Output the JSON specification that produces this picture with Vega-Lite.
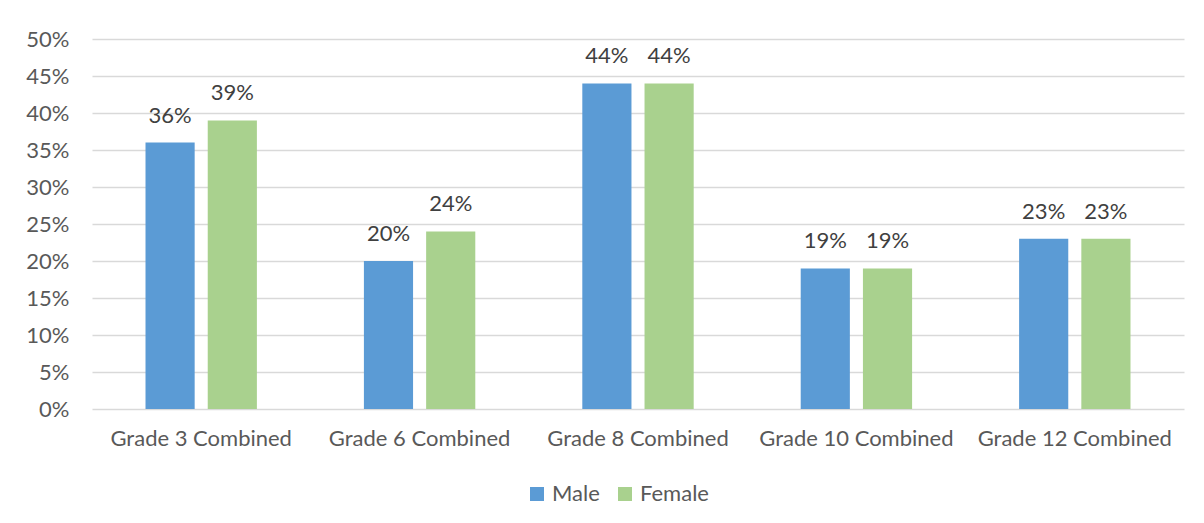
{
  "$schema": "https://vega.github.io/schema/vega-lite/v6.json",
  "width": 1092,
  "height": 370,
  "autosize": {"type": "none"},
  "padding": {"left": 92, "top": 39, "right": 20, "bottom": 114},
  "background": "white",
  "config": {
    "view": {"stroke": null},
    "font": "Lato",
    "axis": {"labelFont": "Lato", "labelColor": "#595959", "labelFontSize": 22, "labelLimit": 400},
    "legend": {"labelFont": "Lato", "labelColor": "#595959", "labelFontSize": 22, "labelLimit": 400}
  },
  "data": {
    "values": [
      {"grade": "Grade 3 Combined", "gender": "Male", "value": 0.36},
      {"grade": "Grade 3 Combined", "gender": "Female", "value": 0.39},
      {"grade": "Grade 6 Combined", "gender": "Male", "value": 0.20},
      {"grade": "Grade 6 Combined", "gender": "Female", "value": 0.24},
      {"grade": "Grade 8 Combined", "gender": "Male", "value": 0.44},
      {"grade": "Grade 8 Combined", "gender": "Female", "value": 0.44},
      {"grade": "Grade 10 Combined", "gender": "Male", "value": 0.19},
      {"grade": "Grade 10 Combined", "gender": "Female", "value": 0.19},
      {"grade": "Grade 12 Combined", "gender": "Male", "value": 0.23},
      {"grade": "Grade 12 Combined", "gender": "Female", "value": 0.23}
    ]
  },
  "encoding": {
    "x": {
      "field": "grade", "type": "nominal", "sort": null,
      "scale": {"paddingInner": 0.49, "paddingOuter": 0.245},
      "axis": {"title": null, "labelAngle": 0, "ticks": false, "domain": false, "labelPadding": 19, "labelFontSize": 22, "labelLimit": 400}
    },
    "xOffset": {
      "field": "gender", "type": "nominal", "sort": ["Male", "Female"],
      "scale": {"paddingInner": 0.21, "paddingOuter": 0}
    },
    "y": {
      "field": "value", "type": "quantitative",
      "scale": {"domain": [0, 0.5], "nice": false},
      "axis": {
        "title": null, "format": ".0%", "values": [0, 0.05, 0.1, 0.15, 0.2, 0.25, 0.3, 0.35, 0.4, 0.45, 0.5],
        "labelOverlap": false, "labelFlush": false,
        "ticks": false, "domain": false, "labelPadding": 23,
        "gridColor": "#D9D9D9", "gridWidth": 1.5
      }
    }
  },
  "layer": [
    {
      "mark": {"type": "bar"},
      "encoding": {
        "color": {
          "field": "gender", "type": "nominal",
          "sort": ["Male", "Female"],
          "scale": {"domain": ["Male", "Female"], "range": ["#5B9BD5", "#A9D18E"]},
          "legend": {
            "title": null, "orient": "none", "direction": "horizontal",
            "legendX": 434, "legendY": 444,
            "symbolType": "square", "symbolSize": 196, "symbolStrokeWidth": 0,
            "columnPadding": 14, "labelOffset": 4
          }
        }
      }
    },
    {
      "mark": {"type": "text", "baseline": "bottom", "dy": -15, "fontSize": 22, "color": "#404040", "font": "Lato"},
      "encoding": {
        "text": {"field": "value", "type": "quantitative", "format": ".0%"}
      }
    }
  ]
}
